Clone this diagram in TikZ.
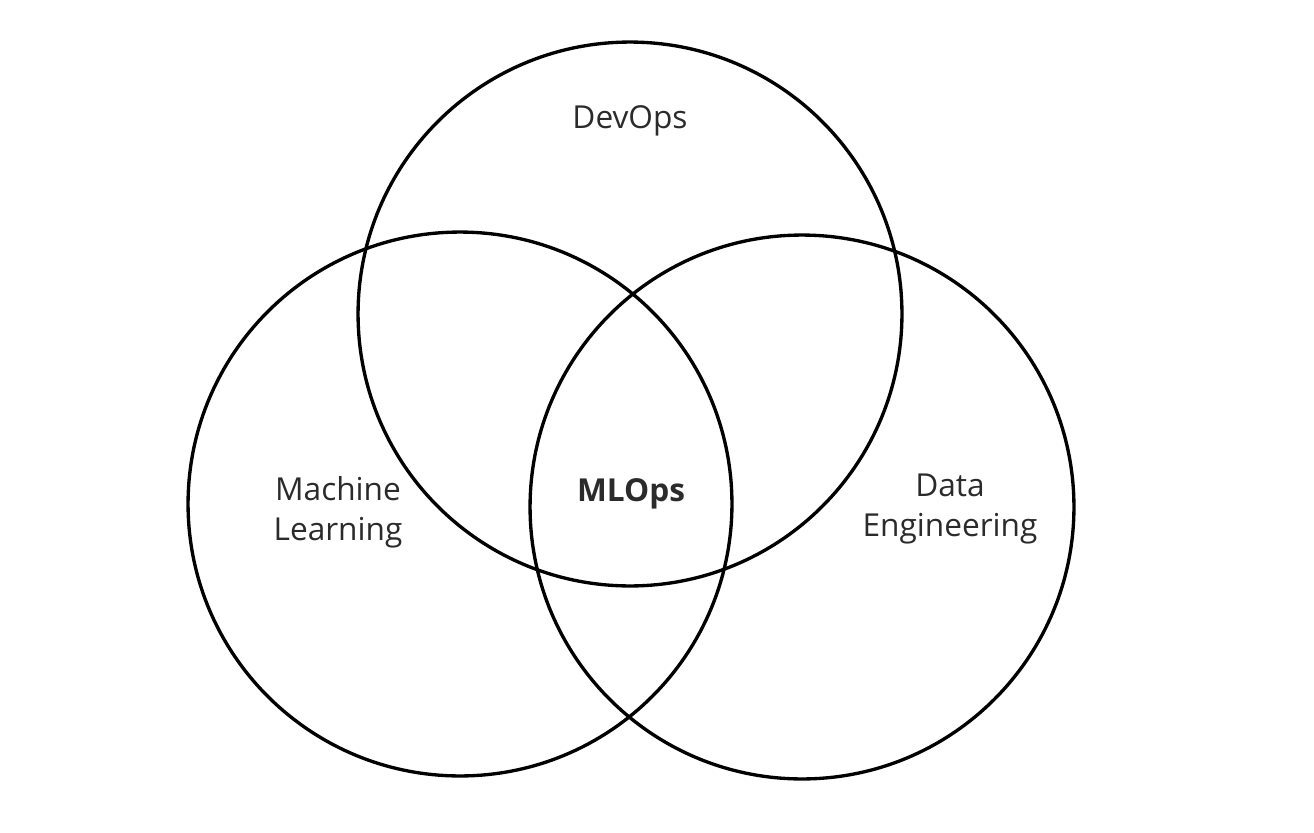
\documentclass[tikz,border=0pt]{standalone}
\usepackage{fontspec}
\setmainfont{Open Sans}
\definecolor{TextClr}{rgb}{0.17,0.17,0.17}

\tikzset{
  setcircle/.style={line width=1.9pt,draw=black},
  setlabel/.style={text=TextClr,font=\fontsize{18}{23}\selectfont,align=center,inner sep=0pt},
}

\begin{document}
\begin{tikzpicture}[x=0.02cm,y=-0.02cm]
\useasboundingbox (0,0) rectangle (1314,832);

% centres of the three sets
\coordinate (DevC) at (630,314);
\coordinate (MLC) at (460,504);
\coordinate (DEC) at (802,507);

\draw[setcircle] (DevC) circle[radius=5.44cm];
\draw[setcircle] (MLC) circle[radius=5.44cm];
\draw[setcircle] (DEC) circle[radius=5.44cm];

\node[setlabel] (devops) at (630,121) {DevOps};
\node[setlabel] (ml) at (338,512) {Machine\\Learning};
\node[setlabel] (de) at (950,509) {Data\\Engineering};
\node[setlabel,font=\fontsize{18}{23}\selectfont\bfseries] (mlops) at (631,494) {MLOps};

\end{tikzpicture}
\end{document}
